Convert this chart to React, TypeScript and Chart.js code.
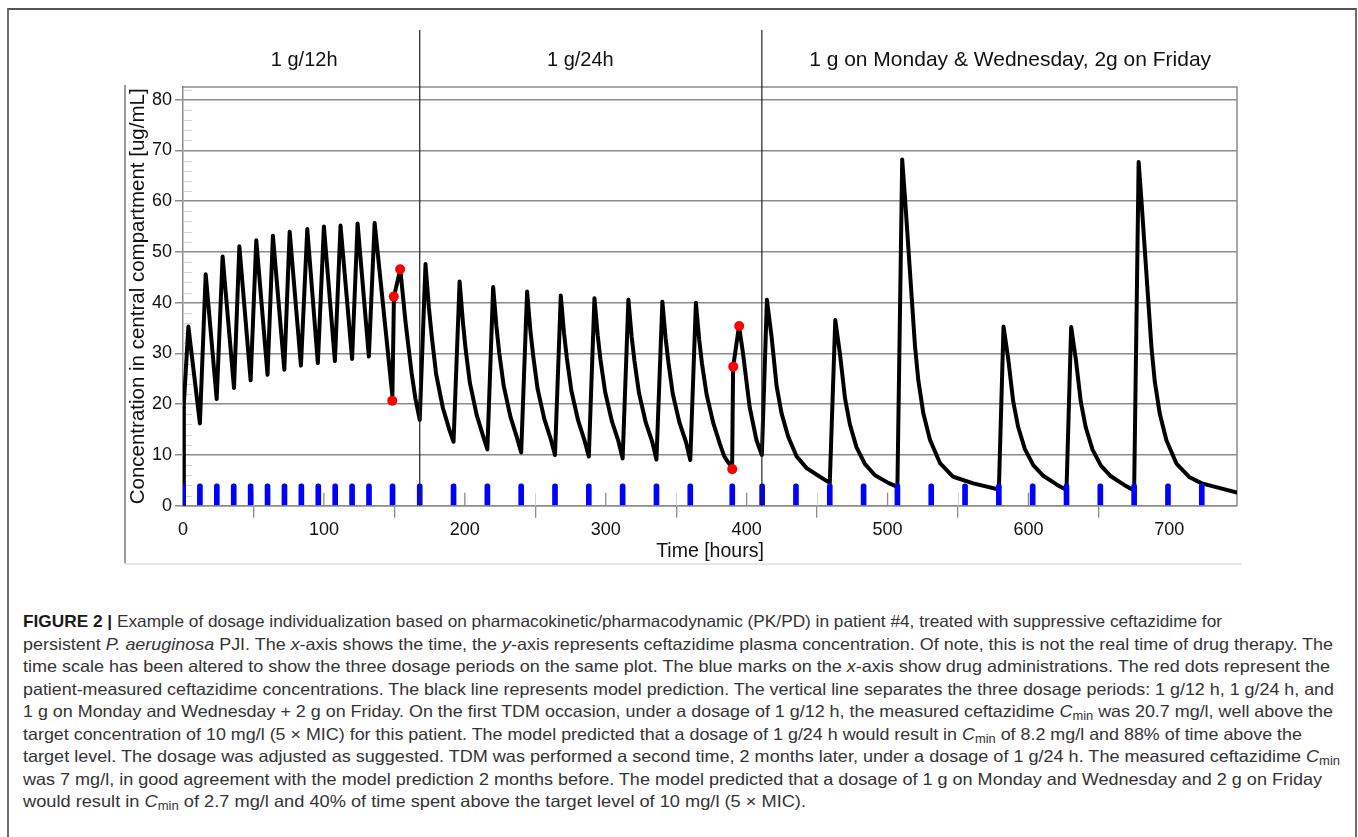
import React, { useEffect, useLayoutEffect, useRef } from "react";
import { Chart, registerables } from "chart.js";

Chart.register(...registerables);

// ---------- DATA ----------
const modelTime = [
  0, 0.6, 3.8, 12, 16.1, 23.9, 28.1, 36.2, 40, 48, 52, 60, 63.8, 71.9, 75.7, 83.7, 88.2, 95.7, 100, 107.8,
  111.8, 120, 123.9, 131.9, 136, 148.6, 149.7, 154.2, 158, 162.2, 165, 168,
  172.1, 174.5, 176.5, 179.6, 184.4, 189, 192,
  196.3, 198.6, 200.5, 203.6, 208.4, 213, 216,
  220.1, 222.4, 224.4, 227.6, 232.4, 237, 240,
  244.2, 246.5, 248.5, 251.6, 256.4, 261, 264,
  268.1, 270.4, 272.4, 275.6, 280.4, 285, 288,
  292, 294.3, 296.3, 299.6, 304.4, 309, 312,
  316.1, 318.4, 320.4, 323.6, 328.4, 333, 336,
  340.2, 342.5, 344.5, 347.6, 352.4, 357, 360,
  364, 366.3, 368.3, 371.6, 376.4, 381, 384, 387, 389.7,
  390.4, 394.6, 397.4, 402.1, 406.9, 410.8,
  414.4, 417.7, 421.3, 424.8, 429.5, 435.5, 442.6, 452, 459,
  462.9, 466.2, 469.8, 473.3, 478, 484, 491.1, 500.5, 507,
  510.4, 512.3, 514.7, 517.1, 519.5, 521.8, 525.4, 530.1, 537.2, 546.6, 560.8, 579,
  582.3, 585.6, 589.2, 592.7, 597.4, 603.4, 610.5, 619.9, 627,
  630.3, 633.6, 637.2, 640.7, 645.4, 651.4, 658.5, 667.9, 675,
  678.2, 680.1, 682.5, 684.9, 687.3, 689.6, 693.2, 697.9, 705, 714.4, 723, 748,
];
const modelConc = [
  0, 20, 35.3, 16.2, 45.6, 21, 49.1, 23.2, 51.1, 24.7, 52.3, 25.8, 53.2, 26.8, 54, 27.6, 54.5, 28.1, 55, 28.5,
  55.2, 28.9, 55.6, 29.4, 55.7, 21.6, 41.2, 46.6, 36, 26.2, 21, 16.9,
  47.6, 39, 33.5, 26, 19.3, 15, 12.6,
  44.2, 36.3, 31, 24.2, 17.9, 13.7, 11.1,
  43.1, 35.4, 30.2, 23.6, 17.5, 13.4, 10.5,
  42.2, 34.6, 29.6, 23.1, 17.1, 13.1, 10.0,
  41.4, 34, 29.1, 22.7, 16.8, 12.8, 9.7,
  40.9, 33.6, 28.7, 22.4, 16.6, 12.7, 9.3,
  40.6, 33.3, 28.5, 22.2, 16.4, 12.6, 9.1,
  40.2, 33, 28.2, 22, 16.3, 12.5, 9.0,
  40, 32.8, 28, 21.9, 16.2, 12.2, 9.8, 8.5, 7.6,
  27.3, 35.4, 30.1, 19.5, 13, 10,
  40.6, 33.3, 23.5, 18.2, 13.6, 9.7, 7.4, 5.7, 4.5,
  36.6, 30.0, 21.2, 16, 11.5, 8.2, 6, 4.5, 3.7,
  68.2, 61, 51.1, 41.2, 31.4, 24.8, 18.2, 13, 8.4, 5.7, 4.4, 3.2,
  35.3, 29, 20.5, 15.5, 11.2, 8, 5.9, 4.2, 3.1,
  35.2, 28.9, 20.4, 15.4, 11.1, 7.9, 5.8, 4.1, 3.0,
  67.7, 60.5, 50.7, 40.9, 31.2, 24.6, 18.1, 12.9, 8.3, 5.6, 4.4, 2.6,
];
const measuredTime = [148.5, 149.6, 154.1, 389.8, 390.5, 394.7];
const measuredConc = [20.7, 41.2, 46.6, 7.2, 27.4, 35.4];
const doseTimes = [
  0, 12, 24, 36, 48, 60, 72, 84, 96, 108, 120, 132, 148.7,
  168, 192, 216, 240, 264, 288, 312, 336, 360, 389.8,
  411, 435, 459, 483, 507, 531, 555, 579, 603, 627, 651, 675, 699, 723,
];
const doseMarkLevel = doseTimes.map(() => 4.3);
const periodBoundaries = [168, 410.8];
const periodLabels = ["1 g/12h", "1 g/24h", "1 g on Monday & Wednesday, 2g on Friday"];
const periodLabelCenters = [86, 282, 587];
const yTickValues = [0, 10, 20, 30, 40, 50, 60, 70, 80];
const xTickValues = [0, 100, 200, 300, 400, 500, 600, 700];
const X_MAX = 748;
const Y_MAX = 82.5;

const FONT = '"Liberation Sans", Arial, sans-serif';
const GRID = "#8c8c8c";

const overlayPlugin = {
  id: "overlay",
  beforeDatasetsDraw(chart: any) {
    const { ctx, chartArea, scales } = chart;
    const { left, right, top, bottom } = chartArea;
    const x = scales.x, y = scales.y;
    ctx.save();
    ctx.strokeStyle = "#d2d2d2";
    ctx.lineWidth = 1;
    for (let v = 2; v <= Y_MAX; v += 2) {
      if (v % 10 === 0) continue;
      const py = Math.round(y.getPixelForValue(v)) + 0.5;
      ctx.beginPath();
      ctx.moveTo(left, py);
      ctx.lineTo(left + 9, py);
      ctx.stroke();
    }
    for (let v = 50; v < X_MAX; v += 100) {
      const px = Math.round(x.getPixelForValue(v)) + 0.5;
      ctx.beginPath();
      ctx.moveTo(px, bottom - 13);
      ctx.lineTo(px, bottom);
      ctx.stroke();
    }
    ctx.strokeStyle = GRID;
    ctx.lineWidth = 1.3;
    for (const v of xTickValues) {
      const px = x.getPixelForValue(v);
      ctx.beginPath();
      ctx.moveTo(px, bottom - 13);
      ctx.lineTo(px, bottom);
      ctx.stroke();
    }
    ctx.lineWidth = 1.5;
    ctx.beginPath();
    ctx.moveTo(left, top);
    ctx.lineTo(right, top);
    ctx.lineTo(right, bottom);
    ctx.stroke();
    ctx.restore();
  },
  afterDraw(chart: any) {
    const { ctx, chartArea, scales } = chart;
    const x = scales.x;
    ctx.save();
    ctx.strokeStyle = "#222";
    ctx.lineWidth = 1.2;
    for (const b of periodBoundaries) {
      const px = x.getPixelForValue(b);
      ctx.beginPath();
      ctx.moveTo(px, 30);
      ctx.lineTo(px, chartArea.bottom);
      ctx.stroke();
    }
    ctx.fillStyle = "#111";
    ctx.textAlign = "center";
    ctx.textBaseline = "middle";
    periodLabels.forEach((t, i) => {
      ctx.font = `${i === 2 ? 21 : 20}px ${FONT}`;
      ctx.fillText(t, x.getPixelForValue(periodLabelCenters[i]), 60);
    });
    ctx.restore();
  },
};

function PKChart() {
  const ref = useRef<HTMLCanvasElement | null>(null);
  useEffect(() => {
    if (!ref.current) return;
    const chart = new Chart(ref.current, {
      type: "line",
      data: {
        datasets: [
          {
            type: "scatter" as any,
            label: "Measured",
            data: measuredTime.map((t, i) => ({ x: t, y: measuredConc[i] })),
            backgroundColor: "#ff0000",
            borderColor: "#ff0000",
            pointRadius: 5,
            pointBorderWidth: 0,
            showLine: false,
            order: 0,
          } as any,
          {
            type: "bar" as any,
            label: "Doses",
            data: doseTimes.map((t, i) => ({ x: t, y: doseMarkLevel[i] })),
            backgroundColor: "#0000ff",
            barThickness: 5,
            borderRadius: { topLeft: 2.5, topRight: 2.5, bottomLeft: 0, bottomRight: 0 },
            borderSkipped: "start",
            order: 1,
          } as any,
          {
            type: "line",
            label: "Model",
            data: modelTime.map((t, i) => ({ x: t, y: modelConc[i] })),
            borderColor: "#000",
            borderWidth: 4,
            pointRadius: 0,
            tension: 0,
            borderJoinStyle: "round",
            borderCapStyle: "round",
            fill: false,
            order: 2,
          } as any,
        ],
      },
      options: {
        responsive: false,
        animation: false,
        events: [],
        layout: { padding: { left: 126, top: 87, right: 121, bottom: 6.6 } },
        plugins: { legend: { display: false }, tooltip: { enabled: false }, title: { display: false } },
        scales: {
          x: {
            type: "linear",
            min: 0,
            max: X_MAX,
            offset: false,
            afterBuildTicks: (s: any) => {
              s.ticks = xTickValues.map((v) => ({ value: v }));
            },
            afterFit: (s: any) => {
              s.height = 57.7;
            },
            grid: { drawOnChartArea: false, drawTicks: true, tickLength: 12, color: GRID, lineWidth: 1.3 },
            border: { display: true, color: GRID, width: 1.5 },
            ticks: { font: { family: FONT, size: 18 }, color: "#111", padding: 2, maxRotation: 0, autoSkip: false },
            title: { display: true, text: "Time [hours]", font: { family: FONT, size: 19.5 }, color: "#111", padding: { top: 0, bottom: 0 } },
          },
          y: {
            type: "linear",
            min: 0,
            max: Y_MAX,
            afterBuildTicks: (s: any) => {
              s.ticks = yTickValues.map((v) => ({ value: v }));
            },
            afterFit: (s: any) => {
              s.width = 57;
            },
            grid: { color: GRID, lineWidth: 1.5, tickLength: 8, drawTicks: true },
            border: { display: true, color: GRID, width: 1.5 },
            ticks: { font: { family: FONT, size: 18 }, color: "#111", padding: 3, autoSkip: false },
            title: {
              display: true,
              text: "Concentration in central compartment [ug/mL]",
              font: { family: FONT, size: 20.5 },
              color: "#111",
              padding: { top: 0, bottom: 0 },
            },
          },
        },
      },
      plugins: [overlayPlugin],
    });
    return () => chart.destroy();
  }, []);
  return (
    <canvas
      ref={ref}
      width={1358}
      height={570}
      style={{ position: "absolute", left: 0, top: 0, width: 1358, height: 570 }}
    />
  );
}

const Cmin = () => (
  <>
    <i>C</i>
    <sub style={{ fontSize: "0.72em", verticalAlign: "-0.25em" }}>min</sub>
  </>
);

const captionLines: React.ReactNode[] = [
  <>
    <b style={{ color: "#1a1a1a" }}>FIGURE 2 |</b> Example of dosage individualization based on pharmacokinetic/pharmacodynamic (PK/PD) in patient #4, treated with suppressive ceftazidime for
  </>,
  <>
    persistent <i>P. aeruginosa</i> PJI. The <i>x</i>-axis shows the time, the <i>y</i>-axis represents ceftazidime plasma concentration. Of note, this is not the real time of drug therapy. The
  </>,
  <>
    time scale has been altered to show the three dosage periods on the same plot. The blue marks on the <i>x</i>-axis show drug administrations. The red dots represent the
  </>,
  <>patient-measured ceftazidime concentrations. The black line represents model prediction. The vertical line separates the three dosage periods: 1 g/12 h, 1 g/24 h, and</>,
  <>
    1 g on Monday and Wednesday + 2 g on Friday. On the first TDM occasion, under a dosage of 1 g/12 h, the measured ceftazidime <Cmin /> was 20.7 mg/l, well above the
  </>,
  <>
    target concentration of 10 mg/l (5 × MIC) for this patient. The model predicted that a dosage of 1 g/24 h would result in <Cmin /> of 8.2 mg/l and 88% of time above the
  </>,
  <>
    target level. The dosage was adjusted as suggested. TDM was performed a second time, 2 months later, under a dosage of 1 g/24 h. The measured ceftazidime <Cmin />
  </>,
  <>was 7 mg/l, in good agreement with the model prediction 2 months before. The model predicted that a dosage of 1 g on Monday and Wednesday and 2 g on Friday</>,
  <>
    would result in <Cmin /> of 2.7 mg/l and 40% of time spent above the target level of 10 mg/l (5 × MIC).
  </>,
];
const captionRightEdges = [1222, 1333, 1330, 1334, 1333, 1302, 1340, 1322, 806];
const CAPTION_LEFT = 23;

function Caption() {
  const refs = useRef<(HTMLSpanElement | null)[]>([]);
  useLayoutEffect(() => {
    refs.current.forEach((el, i) => {
      if (!el) return;
      el.style.transform = "none";
      const w = el.getBoundingClientRect().width;
      const target = captionRightEdges[i] - CAPTION_LEFT;
      if (w > 0) el.style.transform = `scaleX(${target / w})`;
    });
  }, []);
  return (
    <>
      {captionLines.map((line, i) => (
        <div
          key={i}
          style={{
            position: "absolute",
            left: CAPTION_LEFT,
            top: 610 + i * 22.5,
            whiteSpace: "nowrap",
            fontFamily: FONT,
            fontSize: 16.5,
            lineHeight: "22.5px",
            color: "#333",
          }}
        >
          <span
            ref={(el) => {
              refs.current[i] = el;
            }}
            style={{ display: "inline-block", transformOrigin: "0 0" }}
          >
            {line}
          </span>
        </div>
      ))}
    </>
  );
}

export default function App() {
  return (
    <div
      style={{
        position: "absolute",
        left: 0,
        top: 0,
        width: 1358,
        height: 837,
        overflow: "hidden",
        background: "#fff",
      }}
    >
      <div
        style={{
          position: "absolute",
          left: 7,
          top: 8,
          width: 1346,
          height: 900,
          borderLeft: "2px solid #6e6e6e",
          borderTop: "2px solid #555",
          borderRight: "2px solid #6e6e6e",
        }}
      />
      <div style={{ position: "absolute", left: 124, top: 85, width: 2, height: 479, background: "#9a9a9a" }} />
      <div style={{ position: "absolute", left: 124, top: 563, width: 1118, height: 2, background: "#e6e6e6" }} />
      <PKChart />
      <Caption />
    </div>
  );
}
